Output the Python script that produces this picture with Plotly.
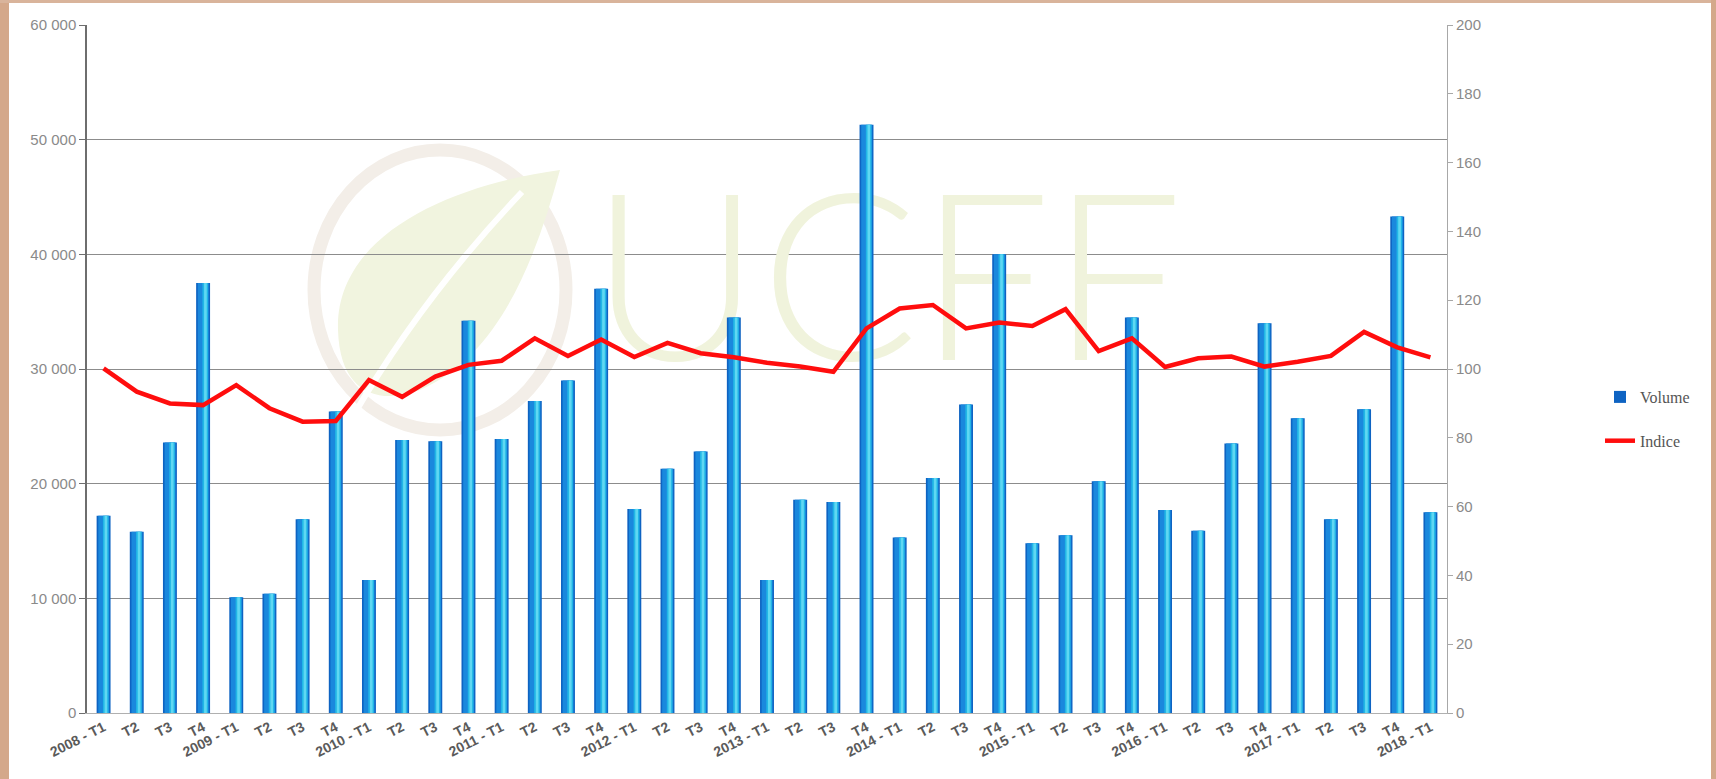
import plotly.graph_objects as go

quarters = ["2008 - T1", "T2", "T3", "T4", "2009 - T1", "T2", "T3", "T4",
            "2010 - T1", "T2", "T3", "T4", "2011 - T1", "T2", "T3", "T4",
            "2012 - T1", "T2", "T3", "T4", "2013 - T1", "T2", "T3", "T4",
            "2014 - T1", "T2", "T3", "T4", "2015 - T1", "T2", "T3", "T4",
            "2016 - T1", "T2", "T3", "T4", "2017 - T1", "T2", "T3", "T4",
            "2018 - T1"]

volume = [17200, 15800, 23600, 37500, 10100, 10400, 16900, 26300,
          11600, 23800, 23700, 34200, 23900, 27200, 29000, 37000,
          17800, 21300, 22800, 34500, 11600, 18600, 18400, 51300,
          15300, 20500, 26900, 40000, 14800, 15500, 20200, 34500,
          17700, 15900, 23500, 34000, 25700, 16900, 26500, 43300,
          17500]

indice = [100.2, 93.4, 90.0, 89.5, 95.3, 88.6, 84.7, 84.9,
          96.8, 91.9, 97.8, 101.2, 102.4, 108.9, 103.8, 108.6,
          103.5, 107.6, 104.6, 103.4, 101.8, 100.7, 99.2, 111.8,
          117.6, 118.6, 111.8, 113.5, 112.5, 117.4, 105.2, 108.9,
          100.6, 103.1, 103.6, 100.7, 102.1, 103.8, 110.8, 106.3,
          103.4]

y_ticks = [0, 10000, 20000, 30000, 40000, 50000, 60000]
y2_ticks = [0, 20, 40, 60, 80, 100, 120, 140, 160, 180, 200]

W, H = 1716, 779
L, R, T, B = 87, 1447, 25, 713
xpos = list(range(len(quarters)))


def px(x):
    return (x - L) / (R - L)


def py(y):
    return (B - y) / (B - T)


fig = go.Figure()

# watermark text (behind bars)
fig.add_trace(go.Scatter(
    x=[23.6], y=[35900], mode="text", text=["UCFF"],
    textfont=dict(family="Lato, Liberation Sans", size=234, color="#f0f3dc", weight=300),
    showlegend=False, hoverinfo="skip", xaxis="x", yaxis="y"))

# bars with simulated gradient
bar_layers = [
    (-0.21, 0.42, "#0e63c2", True),
    (-0.16, 0.33, "#1a88dd", False),
    (-0.02, 0.17, "#22b6e6", False),
    (0.03, 0.08, "#5fd8f2", False),
]
for off, wd, col, leg in bar_layers:
    fig.add_trace(go.Bar(
        x=xpos, y=volume, name="Volume", offset=off, width=wd,
        marker=dict(color=col, line=dict(width=0)),
        showlegend=leg, legendgroup="g1", xaxis="x", yaxis="y2",
        hoverinfo="skip" if not leg else None))

fig.add_trace(go.Scatter(
    x=xpos, y=indice, name="Indice", mode="lines",
    line=dict(color="#ff0d0d", width=4.5),
    legendgroup="g2", xaxis="x", yaxis="y3"))

tick_font = dict(family="Liberation Sans, Arial", size=15, color="#8a8a8a")

fig.update_layout(
    width=W, height=H,
    margin=dict(l=L, r=W - R, t=T, b=H - B, pad=0, autoexpand=False),
    paper_bgcolor="white", plot_bgcolor="rgba(0,0,0,0)",
    barmode="overlay", separators=". ",
    showlegend=True,
    legend=dict(x=px(1600), y=py(380), xanchor="left", yanchor="top",
                font=dict(family="Liberation Serif, Times New Roman", size=16, color="#555"),
                tracegroupgap=20, itemwidth=30, bgcolor="rgba(0,0,0,0)"),
    xaxis=dict(range=[-0.5, len(quarters) - 0.5], tickmode="array", tickvals=xpos,
               ticktext=quarters, tickangle=-27, showgrid=False, zeroline=False,
               showline=True, linecolor="#b0b0b0", linewidth=1, ticks="", automargin=False,
               tickfont=dict(family="Liberation Sans, Arial", size=14, color="#5a5a5a", weight="bold")),
    yaxis=dict(range=[0, 60000], tickmode="array", tickvals=y_ticks, tickformat=",d",
               showgrid=True, gridcolor="#8c8c8c", gridwidth=1, zeroline=False,
               showline=True, linecolor="#6e6e6e", linewidth=1.5, automargin=False,
               ticks="outside", ticklen=6, tickcolor="#6e6e6e", tickfont=tick_font),
    yaxis2=dict(range=[0, 60000], overlaying="y", visible=False, showgrid=False),
    yaxis3=dict(range=[0, 200], overlaying="y", side="right", tickmode="array",
                tickvals=y2_ticks, showgrid=False, zeroline=False, automargin=False,
                showline=True, linecolor="#a8a8a8", linewidth=1,
                ticks="outside", ticklen=5, tickcolor="#a8a8a8", tickfont=tick_font),
)

shapes = []
# border
shapes.append(dict(type="rect", xref="paper", yref="paper", x0=px(0), x1=px(9), y0=py(H), y1=py(0),
                   fillcolor="#d4a88a", line=dict(width=0), layer="below"))
shapes.append(dict(type="rect", xref="paper", yref="paper", x0=px(0), x1=px(W), y0=py(3), y1=py(0),
                   fillcolor="#d9b49b", line=dict(width=0), layer="below"))
shapes.append(dict(type="rect", xref="paper", yref="paper", x0=px(1711), x1=px(W), y0=py(H), y1=py(0),
                   fillcolor="#d4a88a", line=dict(width=0), layer="below"))
# logo ring
shapes.append(dict(type="circle", xref="paper", yref="paper", x0=px(314), x1=px(566), y0=py(430), y1=py(150),
                   line=dict(color="#f3eee8", width=13), fillcolor="rgba(0,0,0,0)", layer="below"))
# leaf
pts = [(560, 170), (450, 185), (335, 235), (338, 330), (340, 395), (380, 405), (420, 390), (500, 355), (535, 260), (560, 170)]
p = [(px(a), py(b)) for a, b in pts]
path = "M {} {} C {} {} {} {} {} {} C {} {} {} {} {} {} C {} {} {} {} {} {} Z".format(
    *[v for pt in p for v in pt])
shapes.append(dict(type="path", xref="paper", yref="paper", path=path,
                   fillcolor="#f1f4df", line=dict(width=0), layer="below"))
stem = [(352, 418), (420, 300), (522, 192)]
sp = [(px(a), py(b)) for a, b in stem]
shapes.append(dict(type="path", xref="paper", yref="paper",
                   path="M {} {} Q {} {} {} {}".format(*[v for pt in sp for v in pt]),
                   line=dict(color="white", width=6), layer="below"))
fig.update_layout(shapes=shapes)

fig.write_html("out.html", config={"displayModeBar": False},
               post_script="document.body.style.margin='0';document.body.style.padding='0';")
